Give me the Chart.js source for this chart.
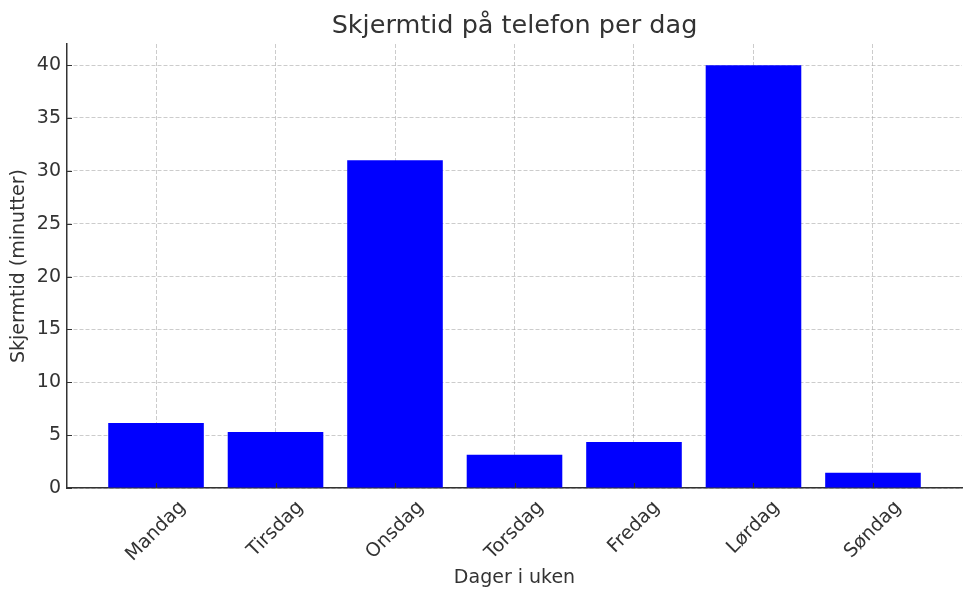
<!DOCTYPE html>
<html>
<head>
<meta charset="utf-8">
<script src="https://cdn.jsdelivr.net/npm/chart.js@4.4.1/dist/chart.umd.min.js"></script>
<style>
  html, body { margin: 0; padding: 0; background: #fff; }
  #wrap { width: 973px; height: 598px; }
</style>
</head>
<body>
<div id="wrap"><canvas id="chart"></canvas></div>
<script>
// data
const days = ['Mandag', 'Tirsdag', 'Onsdag', 'Torsdag', 'Fredag', 'Lørdag', 'Søndag'];
const minutes = [6.15, 5.3, 31, 3.15, 4.35, 40, 1.45];
const yTicks = [0, 5, 10, 15, 20, 25, 30, 35, 40];

const textColor = '#333333';
const fontFamily = '"DejaVu Sans", sans-serif';
const labelSize = 19;

// x labels rotated 45deg, centred on the tick like matplotlib,
// plus tick marks pointing into the plot
const axisExtras = {
    id: 'axisExtras',
    afterDraw(chart) {
        const x = chart.scales.x;
        const y = chart.scales.y;
        const ctx = chart.ctx;
        ctx.save();
        ctx.strokeStyle = textColor;
        ctx.lineWidth = 1.2;
        ctx.beginPath();
        days.forEach((d, i) => {
            const px = Math.round(x.getPixelForValue(i)) + 0.5;
            ctx.moveTo(px, x.top);
            ctx.lineTo(px, x.top - 5);
        });
        yTicks.forEach(v => {
            const py = Math.round(y.getPixelForValue(v)) + 0.5;
            ctx.moveTo(y.right, py);
            ctx.lineTo(y.right + 5, py);
        });
        ctx.stroke();

        ctx.font = labelSize + 'px ' + fontFamily;
        ctx.fillStyle = textColor;
        ctx.textAlign = 'center';
        ctx.textBaseline = 'middle';
        days.forEach((d, i) => {
            const w = ctx.measureText(d).width;
            const half = (w + labelSize * 0.95) * Math.SQRT1_2 / 2;
            const px = x.getPixelForValue(i);
            const py = x.top + 10 + half;
            ctx.save();
            ctx.translate(px, py);
            ctx.rotate(-Math.PI / 4);
            ctx.fillText(d, 0, 0);
            ctx.restore();
        });
        ctx.restore();
    }
};

const gridOpts = {
    color: 'rgba(170,170,170,0.6)',
    lineWidth: 1,
    offset: false,
    drawTicks: false,
    tickLength: 0,
};

const ctx = document.getElementById('chart').getContext('2d');
new Chart(ctx, {
    type: 'bar',
    data: {
        datasets: [{
            data: minutes.map((v, i) => ({ x: i, y: v })),
            backgroundColor: '#0000ff',
            borderWidth: 0,
            barPercentage: 0.8,
            categoryPercentage: 1,
        }],
    },
    options: {
        responsive: true,
        maintainAspectRatio: false,
        animation: false,
        layout: { padding: { right: 11, left: 0, top: 0, bottom: 0 } },
        plugins: {
            legend: { display: false },
            tooltip: { enabled: false },
            title: {
                display: true,
                fullSize: false,
                text: 'Skjermtid på telefon per dag',
                color: textColor,
                font: { family: fontFamily, size: 25.5, weight: 'normal', lineHeight: 1.2 },
                padding: { top: 11, bottom: 2.4 },
            },
        },
        scales: {
            x: {
                type: 'linear',
                min: -0.745,
                max: 6.745,
                offset: false,
                z: 1,
                afterBuildTicks: (s) => { s.ticks = days.map((d, i) => ({ value: i })); },
                afterFit: (s) => { s.height = 110; },
                ticks: { display: false },
                grid: gridOpts,
                border: { color: textColor, width: 1.5, dash: [4, 2] },
                title: {
                    display: true,
                    text: 'Dager i uken',
                    color: textColor,
                    font: { family: fontFamily, size: labelSize },
                    padding: { top: 0, bottom: 9 },
                },
            },
            y: {
                min: 0,
                max: 42,
                z: 1,
                afterBuildTicks: (s) => { s.ticks = yTicks.map(v => ({ value: v })); },
                afterFit: (s) => { s.width = 67; },
                ticks: {
                    color: textColor,
                    font: { family: fontFamily, size: labelSize },
                    padding: 6,
                },
                grid: gridOpts,
                border: { color: textColor, width: 1.5, dash: [4, 2] },
                title: {
                    display: true,
                    text: 'Skjermtid (minutter)',
                    color: textColor,
                    font: { family: fontFamily, size: labelSize },
                    padding: { top: 8, bottom: 0 },
                },
            },
        },
    },
    plugins: [axisExtras],
});
</script>
</body>
</html>
